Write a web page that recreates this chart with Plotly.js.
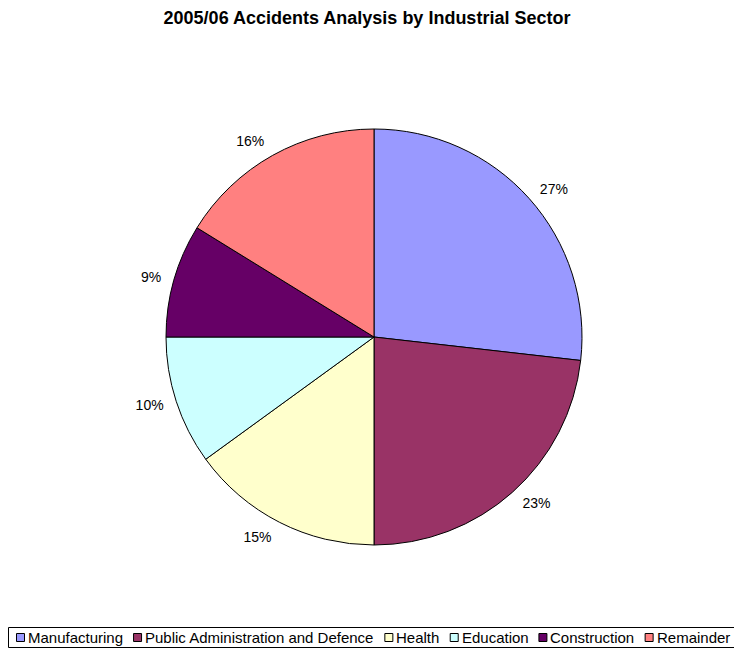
<!DOCTYPE html>
<html>
<head>
<meta charset="utf-8">
<script src="https://cdn.plot.ly/plotly-3.0.1.min.js"></script>
<style>html,body{margin:0;padding:0;background:#fff}#chart{width:734px;height:650px}</style>
</head>
<body>
<div id="chart"></div>
<script>
const sectors = ["Manufacturing", "Public Administration and Defence", "Health", "Education", "Construction", "Remainder"];
const shares = [26.8, 23.2, 15.0, 10.0, 8.8, 16.2];
const colors = ["#9999FF", "#993366", "#FFFFCC", "#CCFFFF", "#660066", "#FF8080"];

const FONT = "Liberation Sans, Arial, sans-serif";
const W = 734, H = 650;
const cx = 374, cy = 337, R = 208, RL = 217;

function dom(r) {
  return {x: [(cx - r) / W, (cx + r) / W], y: [1 - (cy + r) / H, 1 - (cy - r) / H]};
}

// Label carrier: same data, slightly larger invisible pie so outside labels sit further out
const labelsTrace = {
  type: "pie", labels: sectors, values: shares, sort: false,
  direction: "clockwise", rotation: 0,
  marker: {colors: sectors.map(() => "rgba(0,0,0,0)"), line: {width: 0}},
  texttemplate: "%{percent:.0%}", textposition: "outside",
  textfont: {family: FONT, size: 14, color: "#000"},
  domain: dom(RL), showlegend: false, hoverinfo: "skip"
};

const pieTrace = {
  type: "pie", labels: sectors, values: shares, sort: false,
  direction: "clockwise", rotation: 0,
  marker: {colors: colors, line: {color: "#000", width: 1}},
  textinfo: "none",
  domain: dom(R), showlegend: false, hoverinfo: "label+percent"
};

// Legend: single row built from the data arrays, laid out by measured text width
const LEG_FONT = 15;
const ctx = document.createElement("canvas").getContext("2d");
ctx.font = LEG_FONT + "px 'Liberation Sans', Arial, sans-serif";
const px = v => v / W, py = v => 1 - v / H;
const shapes = [{
  type: "rect", xref: "paper", yref: "paper",
  x0: px(8.5), x1: px(W + 10), y0: py(647.5), y1: py(627.5),
  line: {color: "#000", width: 1}, fillcolor: "#fff", layer: "below"
}];
const annotations = [];
let xpos = 16;
sectors.forEach((s, i) => {
  shapes.push({
    type: "rect", xref: "paper", yref: "paper",
    x0: px(xpos + 0.5), x1: px(xpos + 8.5), y0: py(641.5), y1: py(633.5),
    line: {color: "#000", width: 1}, fillcolor: colors[i], layer: "above"
  });
  annotations.push({
    xref: "paper", yref: "paper", x: px(xpos + 11), xanchor: "left",
    y: py(637.5), yanchor: "middle", showarrow: false, text: s, borderpad: 0,
    font: {family: FONT, size: LEG_FONT, color: "#000"}
  });
  xpos += 11 + ctx.measureText(s).width + 11;
});

const layout = {
  width: W, height: H,
  margin: {l: 0, r: 0, t: 0, b: 0},
  paper_bgcolor: "#fff",
  title: {text: "<b>2005/06 Accidents Analysis by Industrial Sector</b>", x: 0.5, xanchor: "center",
    y: 1 - 18 / H, yanchor: "middle",
    font: {family: FONT, size: 18, color: "#000"}},
  showlegend: false,
  shapes: shapes,
  annotations: annotations
};

Plotly.newPlot("chart", [labelsTrace, pieTrace], layout, {displayModeBar: false, staticPlot: true});
</script>
</body>
</html>
